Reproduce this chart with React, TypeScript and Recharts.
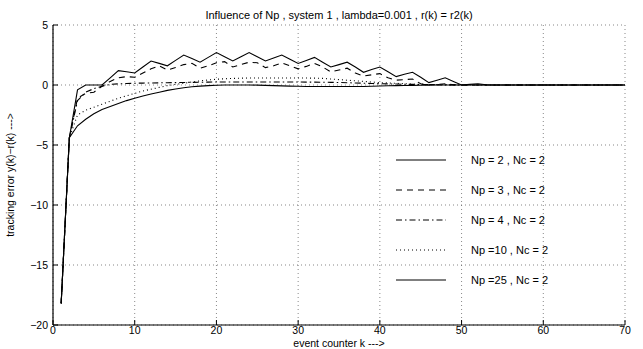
import React from 'react'
import { LineChart, Line, XAxis, YAxis, CartesianGrid } from 'recharts'

// event counter k
const kValues = [
  1, 2, 3, 4, 5, 6, 7, 8, 9, 10, 11, 12, 13, 14, 15, 16, 17, 18, 19, 20,
  21, 22, 23, 24, 25, 26, 27, 28, 29, 30, 31, 32, 33, 34, 35, 36, 37, 38, 39, 40,
  41, 42, 43, 44, 45, 46, 47, 48, 49, 50, 51, 52, 53, 54, 55, 56, 57, 58, 59, 60,
  61, 62, 63, 64, 65, 66, 67, 68, 69, 70,
]

// tracking error y(k) - r(k) per series
const np2 = [
  -18.2, -4.4, -0.4, 0, 0, 0, 0.6, 1.2, 1.1, 1.0, 1.5, 2.0, 1.8, 1.6, 2.05, 2.5, 2.2, 1.9, 2.3, 2.7,
  2.35, 2.0, 2.35, 2.7, 2.35, 2.0, 2.25, 2.5, 2.15, 1.8, 2.05, 2.3, 1.9, 1.5, 1.7, 1.9, 1.5, 1.06, 1.3, 1.5,
  1.1, 0.7, 0.9, 1.06, 0.65, 0.2, 0.4, 0.6, 0.3, 0, 0.05, 0.1, 0.02, 0, 0, 0, 0, 0, 0, 0,
  0, 0, 0, 0, 0, 0, 0, 0, 0, 0,
]
const np3 = [
  -18.2, -4.4, -1.1, -0.7, -0.6, -0.1, 0.3, 0.6, 0.7, 0.65, 1.0, 1.35, 1.6, 1.25, 1.45, 1.7, 1.8, 1.4, 1.6, 1.85,
  1.95, 1.5, 1.7, 1.9, 1.85, 1.45, 1.6, 1.85, 1.6, 1.35, 1.55, 1.8, 1.5, 1.1, 1.25, 1.4, 1.0, 0.75, 0.85, 0.95,
  0.6, 0.4, 0.45, 0.5, 0.1, 0.02, 0.05, 0.1, 0.02, 0, 0, 0, 0, 0, 0, 0, 0, 0, 0, 0,
  0, 0, 0, 0, 0, 0, 0, 0, 0, 0,
]
const np4 = [
  -18.2, -4.4, -1.3, -0.6, -0.3, -0.1, 0.05, 0.1, 0.12, 0.15, 0.16, 0.17, 0.18, 0.19, 0.2, 0.21, 0.22, 0.23, 0.24, 0.25,
  0.25, 0.25, 0.25, 0.25, 0.25, 0.25, 0.25, 0.25, 0.25, 0.25, 0.24, 0.24, 0.23, 0.22, 0.21, 0.19, 0.17, 0.15, 0.13, 0.11,
  0.09, 0.08, 0.06, 0.05, 0.04, 0.03, 0.02, 0.01, 0.01, 0, 0, 0, 0, 0, 0, 0, 0, 0, 0, 0,
  0, 0, 0, 0, 0, 0, 0, 0, 0, 0,
]
const np10 = [
  -18.2, -4.4, -2.5, -2.1, -1.85, -1.6, -1.35, -1.1, -0.9, -0.7, -0.5, -0.35, -0.2, -0.05, 0.05, 0.15, 0.25, 0.35, 0.42, 0.48,
  0.52, 0.55, 0.57, 0.58, 0.58, 0.58, 0.58, 0.58, 0.58, 0.58, 0.58, 0.57, 0.55, 0.5, 0.45, 0.4, 0.35, 0.3, 0.25, 0.2,
  0.17, 0.14, 0.11, 0.08, 0.06, 0.04, 0.03, 0.02, 0.01, 0, 0, 0, 0, 0, 0, 0, 0, 0, 0, 0,
  0, 0, 0, 0, 0, 0, 0, 0, 0, 0,
]
const np25 = [
  -18.2, -4.4, -3.4, -2.85, -2.4, -2.05, -1.8, -1.55, -1.3, -1.1, -0.92, -0.75, -0.6, -0.45, -0.33, -0.23, -0.15, -0.09, -0.05, -0.02,
  0, 0, 0, 0, -0.01, -0.03, -0.05, -0.07, -0.09, -0.1, -0.12, -0.12, -0.12, -0.12, -0.12, -0.12, -0.12, -0.12, -0.1, -0.08,
  -0.06, -0.05, -0.04, -0.03, -0.02, -0.01, 0, 0, 0, 0, 0, 0, 0, 0, 0, 0, 0, 0, 0, 0,
  0, 0, 0, 0, 0, 0, 0, 0, 0, 0,
]

const xTicks = [0, 10, 20, 30, 40, 50, 60, 70]
const yTicks = [-20, -15, -10, -5, 0, 5]

const seriesNames = ['Np = 2 , Nc = 2', 'Np = 3 , Nc = 2', 'Np = 4 , Nc = 2', 'Np =10 , Nc = 2', 'Np =25 , Nc = 2']
const seriesKeys = ['np2', 'np3', 'np4', 'np10', 'np25']
const seriesDash = ['', '6 5', '6 3 1.5 3', '1 3', '']

const data = kValues.map((k, i) => ({
  k,
  np2: np2[i],
  np3: np3[i],
  np4: np4[i],
  np10: np10[i],
  np25: np25[i],
}))

const FONT = '"Liberation Sans", Arial, sans-serif'
const fmt = (v: number) => (v < 0 ? `\u2212${Math.abs(v)}` : `${v}`)

function BottomTick({ x, y, payload }: any) {
  return (
    <g>
      <line x1={x} x2={x} y1={y} y2={y - 5} stroke="#000" />
      <text x={x} y={y + 9} textAnchor="middle" fontSize={10.5} fontFamily={FONT} fill="#000">
        {payload.value}
      </text>
    </g>
  )
}

function LeftTick({ x, y, payload }: any) {
  return (
    <g>
      <line x1={x} x2={x + 5} y1={y} y2={y} stroke="#000" />
      <text x={x - 5} y={y + 4} textAnchor="end" fontSize={10.5} fontFamily={FONT} fill="#000">
        {fmt(payload.value)}
      </text>
    </g>
  )
}

function TopTick({ x, y }: any) {
  return <line x1={x} x2={x} y1={y} y2={y + 5} stroke="#000" />
}

function RightTick({ x, y }: any) {
  return <line x1={x} x2={x - 5} y1={y} y2={y} stroke="#000" />
}

export default function App() {
  return (
    <div style={{ position: 'absolute', left: 0, top: 0, width: 643, height: 349, background: '#fff' }}>
      <LineChart
        width={643}
        height={349}
        data={data}
        margin={{ top: 25, right: 18, left: 0, bottom: 0 }}
      >
        <CartesianGrid stroke="#555" strokeDasharray="1 3" strokeWidth={0.7} />
        <XAxis
          dataKey="k"
          type="number"
          domain={[0, 70]}
          ticks={xTicks}
          height={24}
          tickSize={0}
          tickMargin={0}
          axisLine={{ stroke: '#000', strokeWidth: 1.2 }}
          tickLine={false}
          tick={<BottomTick />}
          interval={0}
          label={{
            value: 'event counter k --->',
            position: 'insideBottom',
            offset: 2,
            style: { fontSize: 10.5, fontFamily: FONT, fill: '#000' },
          }}
        />
        <XAxis
          xAxisId="top"
          orientation="top"
          type="number"
          domain={[0, 70]}
          allowDataOverflow
          ticks={xTicks}
          height={0}
          tickSize={0}
          tickMargin={0}
          axisLine={{ stroke: '#000', strokeWidth: 1.2 }}
          tickLine={false}
          tick={<TopTick />}
          interval={0}
        />
        <YAxis
          type="number"
          domain={[-20, 5]}
          ticks={yTicks}
          width={53}
          tickSize={0}
          tickMargin={0}
          axisLine={{ stroke: '#000', strokeWidth: 1.2 }}
          tickLine={false}
          tick={<LeftTick />}
          interval={0}
          label={{
            value: 'tracking error y(k)\u2212r(k) --->',
            angle: -90,
            position: 'insideLeft',
            offset: 10,
            style: { fontSize: 10.5, fontFamily: FONT, fill: '#000', textAnchor: 'middle' },
          }}
        />
        <YAxis
          yAxisId="right"
          orientation="right"
          type="number"
          domain={[-20, 5]}
          allowDataOverflow
          ticks={yTicks}
          width={0}
          tickSize={0}
          tickMargin={0}
          axisLine={{ stroke: '#000', strokeWidth: 1.2 }}
          tickLine={false}
          tick={<RightTick />}
          interval={0}
        />
        {seriesKeys.map((key, i) => (
          <Line
            key={key}
            dataKey={key}
            stroke="#000"
            strokeWidth={1.1}
            strokeDasharray={seriesDash[i] || undefined}
            dot={false}
            isAnimationActive={false}
          />
        ))}
        <text x={339} y={19} textAnchor="middle" fontSize={11} fontFamily={FONT} fill="#000">
          Influence of Np , system 1 , lambda=0.001 , r(k) = r2(k)
        </text>
      </LineChart>
      <svg width={643} height={349} style={{ position: 'absolute', left: 0, top: 0, pointerEvents: 'none' }}>
        {seriesNames.map((name, i) => {
          const y = 160 + i * 30
          return (
            <g key={name}>
              <line
                x1={396}
                x2={446}
                y1={y}
                y2={y}
                stroke="#000"
                strokeWidth={1}
                strokeDasharray={seriesDash[i] || undefined}
              />
              <text x={471} y={y + 4} fontSize={11} fontFamily={FONT} fill="#000">
                {name}
              </text>
            </g>
          )
        })}
      </svg>
    </div>
  )
}
